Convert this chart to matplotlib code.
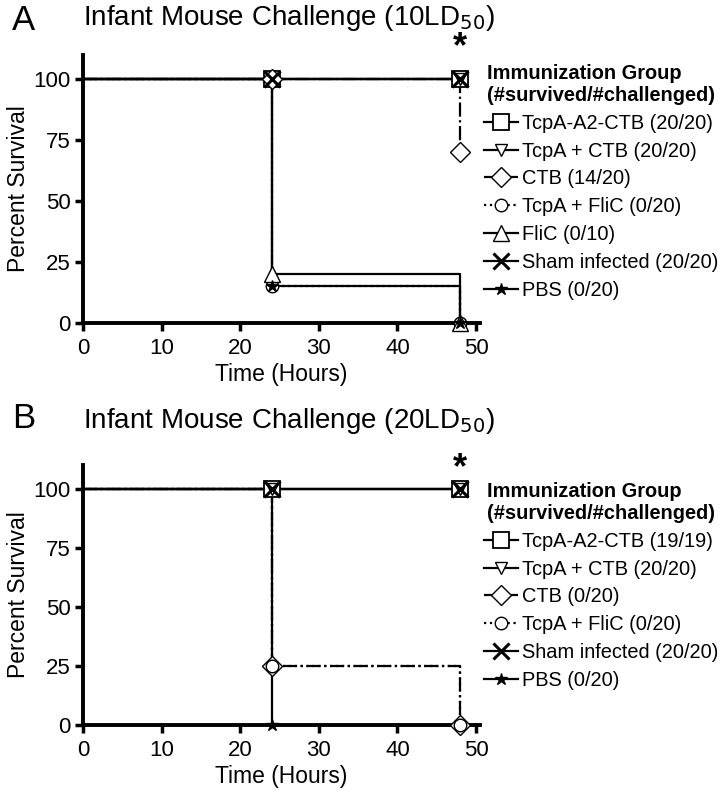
import numpy as np
import matplotlib.pyplot as plt
from matplotlib.lines import Line2D

plt.rcParams['font.family'] = ['Liberation Sans', 'DejaVu Sans']

# Panel A: 10LD50
labels_a = ["TcpA-A2-CTB (20/20)", "TcpA + CTB (20/20)", "CTB (14/20)",
            "TcpA + FliC (0/20)", "FliC (0/10)", "Sham infected (20/20)", "PBS (0/20)"]
times_a = [[0, 24, 48], [0, 24, 48], [0, 24, 48], [0, 24, 48],
           [0, 24, 48], [0, 24, 48], [0, 24, 48]]
surv_a = [[100, 100, 100], [100, 100, 100], [100, 100, 70], [100, 15, 0],
          [100, 20, 0], [100, 100, 100], [100, 15, 0]]

# Panel B: 20LD50
labels_b = ["TcpA-A2-CTB (19/19)", "TcpA + CTB (20/20)", "CTB (0/20)",
            "TcpA + FliC (0/20)", "Sham infected (20/20)", "PBS (0/20)"]
times_b = [[0, 24, 48], [0, 24, 48], [0, 24, 48], [0, 24, 48],
           [0, 24, 48], [0, 24]]
surv_b = [[100, 100, 100], [100, 100, 100], [100, 25, 0], [100, 25, 0],
          [100, 100, 100], [100, 0]]

styles = {
    "TcpA-A2-CTB": dict(marker="s", ls="-", ms=12, mfc="white", mew=1.3),
    "TcpA + CTB": dict(marker="v", ls="-", ms=9, mfc="white", mew=1.0),
    "CTB": dict(marker="D", ls="-.", ms=10, mfc="white", mew=1.0),
    "TcpA + FliC": dict(marker="o", ls=":", ms=9, mfc="white", mew=1.0),
    "FliC": dict(marker="^", ls="-", ms=11, mfc="white", mew=1.0),
    "Sham infected": dict(marker="x", ls="-", ms=11, mfc="black", mew=2.2),
    "PBS": dict(marker="*", ls="-", ms=9, mfc="black", mew=1.0),
}


def style_for(label):
    return styles[label.rsplit(" (", 1)[0]]


def panel(ax, labels, times, surv, legend_xy, star_y):
    handles = []
    for lab, t, s in zip(labels, times, surv):
        st = style_for(lab)
        ax.step(t, s, where="post", color="black", lw=1.6, ls=st["ls"],
                clip_on=False, zorder=2)
        ax.plot(t[1:], s[1:], ls="none", marker=st["marker"], ms=st["ms"],
                mfc=st["mfc"], mec="black", mew=st["mew"], clip_on=False, zorder=3)
        handles.append(Line2D([], [], color="black", lw=1.6, ls=st["ls"],
                              marker=st["marker"], ms=st["ms"], mfc=st["mfc"],
                              mec="black", mew=st["mew"]))
    ax.set_xlim(0, 50.5)
    ax.set_ylim(0, 110)
    ax.set_xticks([0, 10, 20, 30, 40, 50])
    ax.set_yticks([0, 25, 50, 75, 100])
    for sp in ["top", "right"]:
        ax.spines[sp].set_visible(False)
    for sp in ["left", "bottom"]:
        ax.spines[sp].set_linewidth(2.8)
    ax.tick_params(width=2.5, length=6, labelsize=16, pad=3)
    ax.tick_params(axis="x", pad=5)
    ax.set_xlabel("Time (Hours)", fontsize=16.5, labelpad=3)
    ax.set_ylabel("Percent Survival", fontsize=16.5, labelpad=2)
    ax.text(48, star_y, "*", fontsize=26, fontweight="bold", ha="center",
            va="center", clip_on=False)
    fig = ax.figure
    fig.legend(handles, labels, loc="upper left", bbox_to_anchor=legend_xy,
               frameon=False, fontsize=14.4, handlelength=1.7, handletextpad=0.2,
               labelspacing=0.44, borderaxespad=0, borderpad=0,
               title="Immunization Group\n(#survived/#challenged)",
               title_fontproperties={"weight": "bold", "size": 14.4})
    return ax


fig = plt.figure(figsize=(7.28, 7.99), dpi=100)
ax_a = fig.add_axes([83 / 728, (799 - 323) / 799, 397 / 728, 268 / 799])
ax_b = fig.add_axes([83 / 728, (799 - 725) / 799, 397 / 728, 260 / 799])

panel(ax_a, labels_a, times_a, surv_a, (484 / 728, 1 - 64 / 799), 113)
panel(ax_b, labels_b, times_b, surv_b, (484 / 728, 1 - 482 / 799), 108.5)

fig.text(83 / 728, 1 - 25 / 799, "Infant Mouse Challenge (10LD$_{50}$)",
         fontsize=20, ha="left", va="baseline")
fig.text(83 / 728, 1 - 428 / 799, "Infant Mouse Challenge (20LD$_{50}$)",
         fontsize=20, ha="left", va="baseline")
fig.text(12 / 728, 1 - 30 / 799, "A", fontsize=25, ha="left", va="baseline")
fig.text(12 / 728, 1 - 428 / 799, "B", fontsize=25, ha="left", va="baseline")

fig.savefig("out.png", dpi=100)
